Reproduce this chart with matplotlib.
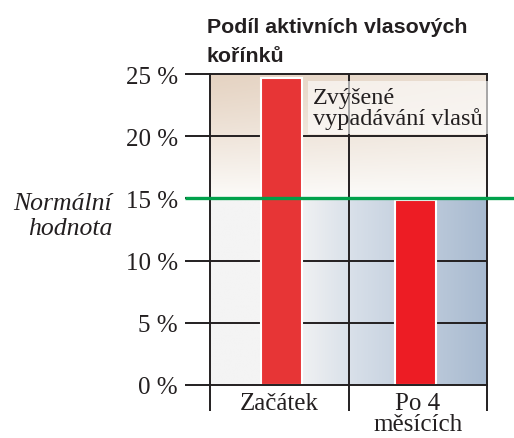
import numpy as np
import matplotlib.pyplot as plt
from matplotlib.colors import to_rgb

# data
categories = ['Začátek', 'Po 4\nměsících']
values = [24.7, 14.9]
bar_colors = ['#E73536', '#ED1C24']
normal_value = 15
yticks = [0, 5, 10, 15, 20, 25]
ytick_labels = ['0 %', '5 %', '10 %', '15 %', '20 %', '25 %']
grid_levels = [5, 10, 20]

title = 'Podíl aktivních vlasových\nkořínků'
note = 'Zvýšené\nvypadávání vlasů'
normal_label = 'Normální\nhodnota'

W, H = 514, 439
line_col = '#231F20'
serif = ['Liberation Serif', 'DejaVu Serif']

fig = plt.figure(figsize=(W / 100, H / 100), dpi=100)
ax = fig.add_axes([210 / W, 1 - 386 / H, 277 / W, 311 / H])
ax.set_xlim(-0.5, 1.5)
ax.set_ylim(0, 25)

# background gradients
n = 200
xs = np.linspace(0, 1, n)
# upper part (15-25 %): warm beige fading to white
top_hi_l, top_hi_r, top_lo = map(np.array, map(to_rgb, ['#E5D3C2', '#EADED2', '#FCFBF9']))
ys = (np.linspace(0, 1, 100) ** 1.2)[:, None, None]
row_hi = top_hi_l + (top_hi_r - top_hi_l) * xs[None, :, None]
upper = row_hi * (1 - ys) + top_lo * ys
ax.imshow(upper, extent=(-0.5, 1.5, 15, 25), aspect='auto', zorder=0, origin='upper')
# lower part (0-15 %): light grey to blue-grey
c0, c1, c2 = map(np.array, map(to_rgb, ['#F4F4F4', '#D6DEE8', '#A8BAD0']))
t = np.clip((xs - 0.3) / 0.7, 0, 1)[:, None]
mid = 0.33
row = np.where(t < mid, c0 + (c1 - c0) * (t / mid), c1 + (c2 - c1) * ((t - mid) / (1 - mid)))
lower = np.repeat(row[None, :, :], 10, axis=0)
ax.imshow(lower, extent=(-0.5, 1.5, 0, 15), aspect='auto', zorder=0)

# grid
ax.hlines(grid_levels, -0.5, 1.5, color=line_col, lw=1.4, zorder=1)
ax.axvline(0.5, color=line_col, lw=1.4, zorder=1)

# bars
ax.bar([0.015, 0.985], values, width=0.3, color=bar_colors,
       edgecolor='white', linewidth=1.5, zorder=2)

# normal value line (runs past the axes on both sides)
ax.plot([(185 - 210) / 277, (W - 210) / 277], [normal_value, normal_value],
        transform=ax.get_yaxis_transform(), color='#00A14B', lw=2.4,
        clip_on=False, zorder=5, solid_capstyle='butt')

for s in ax.spines.values():
    s.set_color(line_col)
    s.set_linewidth(1.4)

ax.set_yticks(yticks, ytick_labels, fontfamily=serif, fontsize=18, color=line_col)
ax.tick_params(axis='y', length=18, width=1.4, color=line_col, pad=5)
ax.set_xticks(range(len(categories)), categories, fontfamily=serif, fontsize=18,
              color=line_col, linespacing=0.95)
ax.set_xticks([-0.5, 0.5, 1.5], minor=True)
ax.tick_params(axis='x', which='major', length=0, pad=5)
ax.tick_params(axis='x', which='minor', length=19, width=1.4, color=line_col)

# va='baseline' aligns the last line of multi-line text
ax.text(0.245, 21.0, note, fontfamily=serif, fontsize=17.5, color=line_col,
        ha='left', va='baseline', linespacing=0.95, zorder=4,
        bbox=dict(facecolor='white', alpha=0.6, edgecolor='none', pad=4))

fig.text(112 / W, 1 - 235 / H, normal_label, fontfamily=serif, fontsize=18.5,
         style='italic', color=line_col, ha='right', va='baseline', linespacing=1.15)

fig.text(207 / W, 1 - 62 / H, title, fontfamily=['Liberation Sans', 'DejaVu Sans'],
         fontsize=15.4, fontweight='bold', color=line_col, ha='left', va='baseline',
         linespacing=1.65)

fig.savefig('out.png', dpi=100)
